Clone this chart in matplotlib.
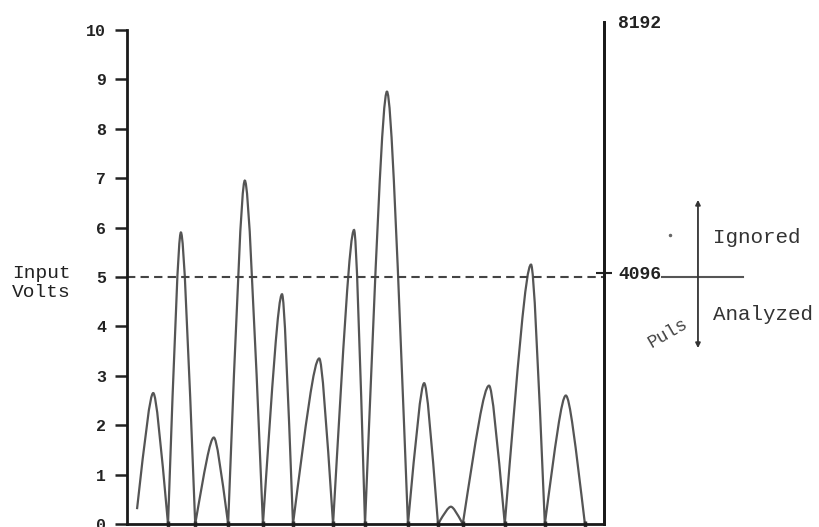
import numpy as np
import matplotlib.pyplot as plt
from matplotlib.path import Path
from matplotlib.patches import PathPatch

plt.rcParams['font.family'] = ['Liberation Mono', 'DejaVu Sans Mono']

# pulse train (x in arbitrary time units, 0..100)
valley_x = [2.1, 8.6, 14.3, 21.2, 28.5, 34.8, 43.2, 49.9, 58.9, 65.2, 70.4, 79.2, 87.6, 96.0]
valley_y = [0.3, 0.0, 0.0, 0.0, 0.0, 0.0, 0.0, 0.0, 0.0, 0.0, 0.0, 0.0, 0.0, 0.0]
peak_x = [5.5, 11.3, 18.2, 24.7, 32.5, 40.3, 47.6, 54.5, 62.3, 67.9, 75.9, 84.7, 92.0]
peak_y = [2.65, 5.9, 1.75, 6.95, 4.65, 3.35, 5.95, 8.75, 2.85, 0.35, 2.8, 5.25, 2.6]

volt_ticks = [0, 1, 2, 3, 4, 5, 6, 7, 8, 9, 10]
threshold = 5
adc_ticks = [4096, 8192]

fig = plt.figure(figsize=(8.19, 5.27), dpi=100)
ax = fig.add_axes([127/819, 3/527, 477/819, 502/527])
ax.set_xlim(0, 100)
ax.set_ylim(0, 10.16)

# build the trace as bezier segments: valley -> peak -> valley ...
# straight-ish flanks with a rounded top
knots = []
for i in range(len(peak_x)):
    knots.append((valley_x[i], valley_y[i], 'v'))
    knots.append((peak_x[i], peak_y[i], 'p'))
knots.append((valley_x[-1], valley_y[-1], 'v'))

verts = [(knots[0][0], knots[0][1])]
codes = [Path.MOVETO]
for (xa, ya, ka), (xb, yb, kb) in zip(knots[:-1], knots[1:]):
    dx = xb - xa
    if kb == 'p':
        c1 = (xa + 0.5*dx, ya + 0.62*(yb - ya))
        c2 = (xa + 0.8*dx, yb)
    else:
        c1 = (xa + 0.2*dx, ya)
        c2 = (xa + 0.5*dx, yb + 0.62*(ya - yb))
    verts += [c1, c2, (xb, yb)]
    codes += [Path.CURVE4]*3

ax.add_patch(PathPatch(Path(verts, codes), fill=False, edgecolor='#555555', lw=1.6))

# threshold line
ax.axhline(threshold, color='#444444', lw=1.5, ls=(0, (4, 2.5)))

# axes styling
ax.spines['top'].set_visible(False)
for s in ['left', 'right', 'bottom']:
    ax.spines[s].set_color('#1a1a1a')
    ax.spines[s].set_linewidth(2)
ax.spines['left'].set_bounds(0, 10)

ax.set_yticks(volt_ticks)
ax.set_yticklabels([str(v) for v in volt_ticks], fontsize=12, fontweight='bold', color='#222222')
ax.tick_params(axis='y', direction='out', length=9, width=1.8, pad=6, color='#222222')
ax.set_xticks(valley_x[1:])
ax.set_xticklabels([])
ax.tick_params(axis='x', direction='inout', length=4, width=2.5, color='#333333')

ax2 = ax.twinx()
ax2.set_ylim(0, 8192)
ax2.set_yticks(adc_ticks)
ax2.set_yticklabels([str(v) for v in adc_ticks], fontsize=13, fontweight='bold', color='#222222')
ax2.tick_params(axis='y', direction='inout', length=12, width=1.5, pad=4, color='#222222')
ax2.yaxis.get_major_ticks()[1].tick2line.set_visible(False)
for s in ['top', 'left', 'bottom']:
    ax2.spines[s].set_visible(False)
ax2.spines['right'].set_color('#1a1a1a')
ax2.spines['right'].set_linewidth(2)

# annotation on the right side
ax.plot([112.2, 129.1], [threshold, threshold], color='#555555', lw=1.5, clip_on=False)
ax.annotate('', xy=(119.7, 6.56), xytext=(119.7, 3.56), xycoords='data',
            arrowprops=dict(arrowstyle='<|-|>', color='#333333', lw=1.3,
                            mutation_scale=7, shrinkA=0, shrinkB=0),
            annotation_clip=False)
ax.text(122.9, 5.79, 'Ignored', fontsize=15, color='#333333', va='center', ha='left', clip_on=False)
ax.text(122.9, 4.23, 'Analyzed', fontsize=15, color='#333333', va='center', ha='left', clip_on=False)
ax.text(113.5, 3.85, 'Puls', fontsize=13, color='#444444', va='center', ha='center',
        rotation=30, clip_on=False)
ax.plot([113.8], [5.85], marker='.', ms=3, color='#666666', clip_on=False)

fig.text(12/819, 1 - 283/527, 'Input\nVolts', fontsize=14, color='#222222',
         va='center', ha='left', linespacing=1.15)

fig.savefig('out.png', dpi=100)
